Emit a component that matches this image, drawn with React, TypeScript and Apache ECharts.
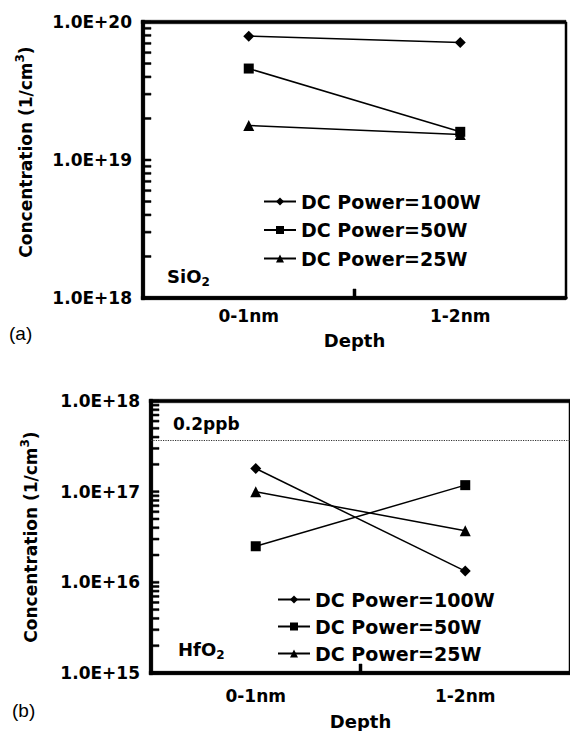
import React, { useEffect, useRef } from 'react';
import * as echarts from 'echarts';

// ---- data ----
const categories = ['0-1nm', '1-2nm'];
const seriesNames = ['DC Power=100W', 'DC Power=50W', 'DC Power=25W'];
const seriesSymbols = ['diamond', 'rect', 'triangle'];
const seriesSymbolSizes = [11, 10, 11];

const sio2P100 = [7.9e19, 7.1e19];
const sio2P50 = [4.6e19, 1.6e19];
const sio2P25 = [1.78e19, 1.53e19];

const hfo2P100 = [1.8e17, 1.33e16];
const hfo2P50 = [2.5e16, 1.18e17];
const hfo2P25 = [1.0e17, 3.7e16];

const topYRange = [1e18, 1e20];
const bottomYRange = [1e15, 1e18];

const ppbLevel = 3.7e17;
const ppbLabel = '0.2ppb';

const FONT = 'DejaVu Sans';

function logMinorTicks(min: number, max: number): number[] {
  const out: number[] = [];
  const e0 = Math.round(Math.log10(min));
  const e1 = Math.round(Math.log10(max));
  for (let e = e0; e < e1; e++) {
    for (let m = 1; m < 10; m++) out.push(m * Math.pow(10, e));
  }
  out.push(Math.pow(10, e1));
  return out;
}

function yAxisFor(gridIndex: number, range: number[], nameGap: number, namePad: number) {
  return {
    type: 'log',
    logBase: 10,
    gridIndex,
    position: 'left',
    min: range[0],
    max: range[1],
    axisLine: { show: true, onZero: false, lineStyle: { color: '#000', width: 3.5 } },
    axisTick: { show: false },
    axisLabel: {
      formatter: (v: number) => '1.0E+' + Math.round(Math.log10(v)),
      fontFamily: FONT,
      fontWeight: 'bold',
      fontSize: 17,
      color: '#000',
      margin: 11,
    },
    splitLine: { show: false },
    name: 'Concentration (1/cm{sup|3})',
    nameLocation: 'middle',
    nameGap,
    nameTextStyle: {
      fontFamily: FONT,
      fontWeight: 'bold',
      fontSize: 17,
      color: '#000',
      lineHeight: 24,
      padding: [0, 0, 0, namePad],
      rich: {
        sup: { fontFamily: FONT, fontWeight: 'bold', fontSize: 12, color: '#000', lineHeight: 12, verticalAlign: 'top' },
      },
    },
  };
}

function xAxisFor(gridIndex: number, labelMargin: number, nameGap: number) {
  return {
    type: 'category',
    gridIndex,
    position: 'bottom',
    data: categories,
    boundaryGap: true,
    axisLine: { show: true, onZero: false, lineStyle: { color: '#000', width: 3.5 } },
    axisTick: { show: false },
    axisLabel: { fontFamily: FONT, fontWeight: 'bold', fontSize: 17, color: '#000', margin: labelMargin },
    splitLine: { show: false },
    name: 'Depth',
    nameLocation: 'middle',
    nameGap,
    nameTextStyle: { fontFamily: FONT, fontWeight: 'bold', fontSize: 18, color: '#000' },
  };
}

function lineSeries(i: number, data: number[], xAxisIndex: number, yAxisIndex: number, extra: any = {}) {
  return {
    type: 'line',
    name: seriesNames[i],
    xAxisIndex,
    yAxisIndex,
    data,
    symbol: seriesSymbols[i],
    symbolSize: seriesSymbolSizes[i],
    color: '#000',
    itemStyle: { color: '#000' },
    lineStyle: { color: '#000', width: 1.5 },
    z: 4,
    ...extra,
  };
}

function legendAt(left: number, top: number, itemGap: number) {
  return {
    data: seriesNames,
    orient: 'vertical',
    left,
    top,
    padding: 0,
    itemWidth: 32,
    itemHeight: 10,
    itemGap,
    selectedMode: false,
    textStyle: { fontFamily: FONT, fontWeight: 'bold', fontSize: 19, color: '#000' },
  };
}

function subLabel(x: number, y: number, main: string, sub: string) {
  return {
    type: 'text',
    x,
    y,
    style: {
      text: `{m|${main}}{s|${sub}}`,
      fill: '#000',
      rich: {
        m: { fontFamily: FONT, fontWeight: 'bold', fontSize: 18, lineHeight: 24, verticalAlign: 'middle', fill: '#000' },
        s: { fontFamily: FONT, fontWeight: 'bold', fontSize: 12, lineHeight: 12, verticalAlign: 'bottom', fill: '#000' },
      },
    },
  };
}

function bar(x: number, y: number, w: number, h: number) {
  return { type: 'rect', shape: { x, y, width: w, height: h }, style: { fill: '#000', stroke: '#000', lineWidth: 0.5 } };
}

// frame + ticks, placed through the chart's own axes (convertToPixel), drawn as filled rects
function frameGraphics(chart: any, gridIndex: number, xAxisIndex: number, yAxisIndex: number, range: number[]) {
  const rect = chart.getModel().getComponent('grid', gridIndex).coordinateSystem.getRect();
  const l = rect.x;
  const t = rect.y;
  const r = rect.x + rect.width;
  const b = rect.y + rect.height;
  const th = 3.5;
  const h = th / 2;
  const els: any[] = [];
  els.push(bar(l - h, t - h, r - l + h, th));
  els.push(bar(l - h, t - h, th, b - t + th));
  els.push(bar(l - h, b - h, r - l + h, th));
  els.push(bar(r - 1, t, 2, b - t));
  logMinorTicks(range[0], range[1]).forEach((v) => {
    const y = chart.convertToPixel({ yAxisIndex }, v);
    els.push(bar(l, y - 1, 8, 2));
  });
  const x0 = chart.convertToPixel({ xAxisIndex }, categories[0]);
  const x1 = chart.convertToPixel({ xAxisIndex }, categories[1]);
  const mx = (x0 + x1) / 2;
  els.push(bar(mx - 1.5, b - 9, 3, 9));
  return els;
}

export default function App() {
  const ref = useRef<HTMLDivElement>(null);

  useEffect(() => {
    if (!ref.current) return;
    const chart = echarts.init(ref.current, undefined, { renderer: 'svg' });
    const option: any = {
      animation: false,
      backgroundColor: '#fff',
      grid: [
        { left: 143, top: 22, right: 4, height: 276 },
        { left: 151, top: 401, right: -10, height: 275 },
      ],
      xAxis: [xAxisFor(0, 9, 33), xAxisFor(1, 14, 39)],
      yAxis: [yAxisFor(0, topYRange, 105, 16), yAxisFor(1, bottomYRange, 108, 0)],
      legend: [legendAt(263, 192, 9.5), legendAt(277, 590, 8)],
      series: [
        lineSeries(0, sio2P100, 0, 0),
        lineSeries(1, sio2P50, 0, 0),
        lineSeries(2, sio2P25, 0, 0),
        lineSeries(0, hfo2P100, 1, 1, {
          markLine: {
            silent: true,
            symbol: ['none', 'none'],
            lineStyle: { type: 'dotted', color: '#333', width: 1.2 },
            label: {
              show: true,
              position: 'insideStartTop',
              formatter: ppbLabel,
              fontFamily: FONT,
              fontWeight: 'bold',
              fontSize: 17,
              color: '#000',
              distance: [22, 8],
            },
            data: [{ yAxis: ppbLevel }],
          },
        }),
        lineSeries(1, hfo2P50, 1, 1),
        lineSeries(2, hfo2P25, 1, 1),
      ],
    };
    chart.setOption(option);
    let frames: any[] = [];
    try {
      frames = [...frameGraphics(chart, 0, 0, 0, topYRange), ...frameGraphics(chart, 1, 1, 1, bottomYRange)];
    } catch (e) {
      frames = [];
    }
    chart.setOption({
      graphic: [
        { type: 'text', x: 9, y: 333, style: { text: '(a)', fill: '#000', font: '19px "Liberation Sans"', verticalAlign: 'middle' } },
        { type: 'text', x: 12, y: 710, style: { text: '(b)', fill: '#000', font: '19px "Liberation Sans"', verticalAlign: 'middle' } },
        subLabel(167, 264, 'SiO', '2'),
        subLabel(178, 637, 'HfO', '2'),
        ...frames,
      ],
    });
    return () => chart.dispose();
  }, []);

  return <div ref={ref} style={{ position: 'absolute', left: 0, top: 0, width: 570, height: 731 }} />;
}
